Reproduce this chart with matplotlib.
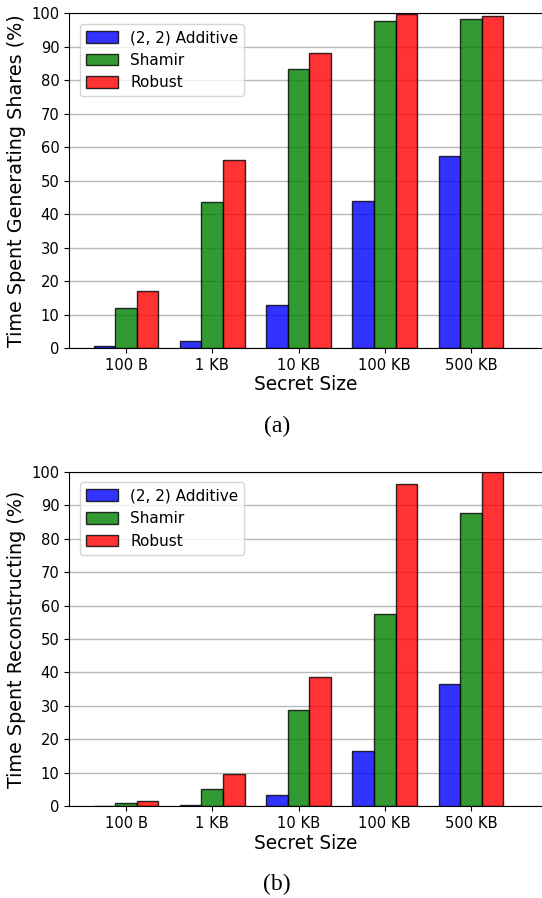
import matplotlib
matplotlib.use("Agg")
import matplotlib.pyplot as plt
import numpy as np

categories = ["100 B", "1 KB", "10 KB", "100 KB", "500 KB"]
series_names = ["(2, 2) Additive", "Shamir", "Robust"]
gen_additive = [0.6, 2.2, 12.8, 43.9, 57.3]
gen_shamir = [12.0, 43.6, 83.5, 97.6, 98.3]
gen_robust = [16.9, 56.1, 88.0, 99.8, 99.2]
rec_additive = [0.1, 0.5, 3.3, 16.4, 36.5]
rec_shamir = [0.9, 5.1, 28.9, 57.5, 87.7]
rec_robust = [1.7, 9.7, 38.7, 96.4, 100.0]
yticks = list(range(0, 101, 10))

colors = ["b", "g", "r"]
W, H = 542, 898
fig = plt.figure(figsize=(W / 100, H / 100), dpi=100)

def px_axes(top, bottom, left=69, right=542):
    return [left / W, 1 - bottom / H, (right - left) / W, (bottom - top) / H]

def draw(ax, data, ylabel):
    x = np.arange(len(categories))
    w = 0.25
    for i, (vals, name, c) in enumerate(zip(data, series_names, colors)):
        ax.bar(x + (i - 1) * w, vals, w, color=c, alpha=0.8, edgecolor="black",
               linewidth=1.0, label=name, zorder=3)
    ax.set_xticks(x)
    ax.set_xticklabels(categories, fontsize=10.6)
    ax.set_yticks(yticks)
    ax.set_yticklabels([str(t) for t in yticks], fontsize=10.6)
    ax.set_ylim(0, 100)
    ax.set_xlim(-0.661, 4.823)
    ax.yaxis.grid(True, color="#b8b8b8", linewidth=1.0, zorder=0)
    ax.set_axisbelow(True)
    ax.spines["right"].set_visible(False)
    ax.set_xlabel("Secret Size", fontsize=13.4, labelpad=2)
    ax.set_ylabel(ylabel, fontsize=13.8, labelpad=4)
    ax.legend(loc="upper left", fontsize=11, bbox_to_anchor=(0.0, 1.0),
              borderaxespad=0.7, framealpha=0.8, handlelength=2.1,
              handleheight=0.8)

ax1 = fig.add_axes(px_axes(13.3, 348))
draw(ax1, [gen_additive, gen_shamir, gen_robust], "Time Spent Generating Shares (%)")
ax2 = fig.add_axes(px_axes(471.7, 806.3))
draw(ax2, [rec_additive, rec_shamir, rec_robust], "Time Spent Reconstructing (%)")

fig.text(277 / W, 1 - 426 / H, "(a)", family="Liberation Serif", fontsize=17,
         ha="center", va="center")
fig.text(277 / W, 1 - 884 / H, "(b)", family="Liberation Serif", fontsize=17,
         ha="center", va="center")

fig.savefig("out.png", dpi=100)
